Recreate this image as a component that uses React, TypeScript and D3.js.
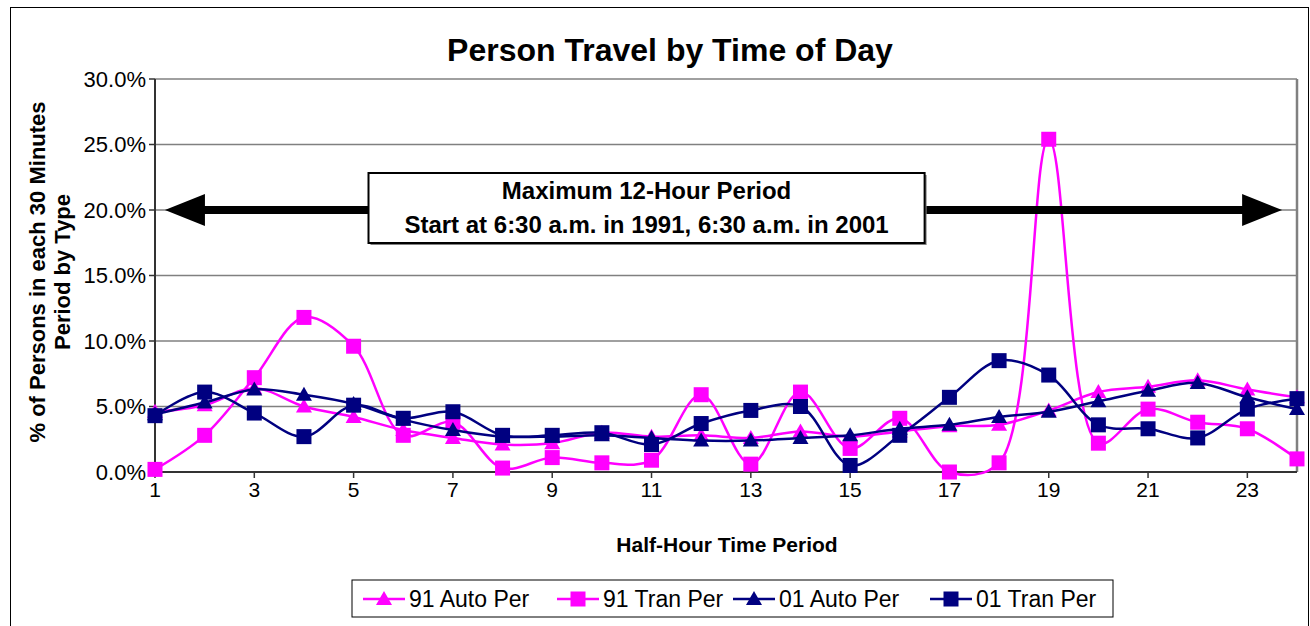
import * as d3 from "d3";

const periods = [1, 2, 3, 4, 5, 6, 7, 8, 9, 10, 11, 12, 13, 14, 15, 16, 17, 18, 19, 20, 21, 22, 23, 24];
const auto91 = [4.6, 5.1, 6.4, 5.0, 4.2, 3.2, 2.6, 2.1, 2.2, 3.0, 2.7, 2.8, 2.6, 3.1, 2.7, 3.1, 3.5, 3.6, 4.7, 6.1, 6.5, 7.0, 6.3, 5.7];
const tran91 = [0.2, 2.8, 7.2, 11.8, 9.6, 2.8, 3.8, 0.3, 1.1, 0.7, 0.9, 5.9, 0.6, 6.1, 1.8, 4.1, 0.0, 0.7, 25.4, 2.2, 4.8, 3.8, 3.3, 1.0];
const auto01 = [4.4, 5.3, 6.3, 5.9, 5.2, 4.0, 3.2, 2.7, 2.7, 2.8, 2.6, 2.4, 2.4, 2.6, 2.8, 3.3, 3.6, 4.2, 4.6, 5.4, 6.2, 6.8, 5.7, 4.8];
const tran01 = [4.3, 6.1, 4.5, 2.7, 5.1, 4.1, 4.6, 2.8, 2.8, 3.0, 2.1, 3.7, 4.7, 5.0, 0.5, 2.8, 5.7, 8.5, 7.4, 3.6, 3.3, 2.6, 4.8, 5.6];
const seriesNames = ["91 Auto Per", "91 Tran Per", "01 Auto Per", "01 Tran Per"];
const yTicks = [0, 5, 10, 15, 20, 25, 30];
const xTicks = [1, 3, 5, 7, 9, 11, 13, 15, 17, 19, 21, 23];

const FONT = "'Liberation Sans', Arial, sans-serif";
const MAGENTA = "#ff00ff";
const NAVY = "#000080";

const Marker = ({ shape, color, cx, cy }: { shape: string; color: string; cx: number; cy: number }) =>
  shape === "square" ? (
    <rect x={cx - 7.5} y={cy - 7.5} width={15} height={15} fill={color} />
  ) : (
    <path d={`M${cx},${cy - 8}L${cx + 8},${cy + 6}L${cx - 8},${cy + 6}Z`} fill={color} />
  );

export default function App() {
  const x = d3.scaleLinear().domain([1, 24]).range([155, 1297]);
  const y = d3.scaleLinear().domain([0, 30]).range([472, 79]);

  const series = [
    { name: seriesNames[0], values: auto91, color: MAGENTA, shape: "tri" },
    { name: seriesNames[1], values: tran91, color: MAGENTA, shape: "square" },
    { name: seriesNames[2], values: auto01, color: NAVY, shape: "tri" },
    { name: seriesNames[3], values: tran01, color: NAVY, shape: "square" },
  ];

  const line = d3
    .line<number>()
    .x((_, i) => x(periods[i]))
    .y((d) => y(d))
    .curve(d3.curveCatmullRom.alpha(0.5));

  // arrow + note box
  const ay = y(20);
  const boxL = x(5.3);
  const boxR = x(16.5);
  const legendX = [363, 557, 733, 930];

  return (
    <div style={{ position: "fixed", left: 0, top: 0 }}>
      <svg width={1310} height={626} style={{ display: "block", fontFamily: FONT }}>
        <rect width={1310} height={626} fill="#fff" />
        <rect x={10.5} y={7.5} width={1298} height={640} fill="none" stroke="#000" strokeWidth={1} />

        <text x={670} y={50} textAnchor="middle" dominantBaseline="central" fontSize={32} fontWeight="bold">
          Person Travel by Time of Day
        </text>

        {/* grid */}
        {yTicks.slice(1).map((t) => (
          <line key={t} x1={x(1)} x2={x(24)} y1={y(t)} y2={y(t)} stroke="#808080" strokeWidth={1.5} />
        ))}
        <line x1={x(24)} x2={x(24)} y1={y(30)} y2={y(0)} stroke="#808080" strokeWidth={2.5} />

        {/* y axis */}
        <line x1={x(1)} x2={x(1)} y1={y(30)} y2={y(0)} stroke="#333" strokeWidth={2} />
        {yTicks.map((t) => (
          <g key={t}>
            <line x1={x(1) - 6} x2={x(1)} y1={y(t)} y2={y(t)} stroke="#333" strokeWidth={1.5} />
            <text x={146} y={y(t)} textAnchor="end" dominantBaseline="central" fontSize={22}>
              {d3.format(".1f")(t)}%
            </text>
          </g>
        ))}

        {/* x axis */}
        <line x1={x(1)} x2={x(24)} y1={y(0)} y2={y(0)} stroke="#333" strokeWidth={2} />
        {xTicks.map((t) => (
          <g key={t}>
            <line x1={x(t)} x2={x(t)} y1={y(0)} y2={y(0) + 6} stroke="#333" strokeWidth={1.5} />
            <text x={x(t)} y={y(0) + 17} textAnchor="middle" dominantBaseline="central" fontSize={21}>
              {t}
            </text>
          </g>
        ))}

        <text x={727} y={544} textAnchor="middle" dominantBaseline="central" fontSize={21} fontWeight="bold">
          Half-Hour Time Period
        </text>
        <g transform="translate(45,272) rotate(-90)">
          <text textAnchor="middle" fontSize={22} fontWeight="bold">% of Persons in each 30 Minutes</text>
          <text y={25} textAnchor="middle" fontSize={22} fontWeight="bold">Period by Type</text>
        </g>

        {/* series */}
        {series.map((s) => (
          <g key={s.name}>
            <path d={line(s.values) || ""} fill="none" stroke={s.color} strokeWidth={2.5} />
            {s.values.map((v, i) => (
              <Marker key={i} shape={s.shape} color={s.color} cx={x(periods[i])} cy={y(v)} />
            ))}
          </g>
        ))}

        {/* arrows and note */}
        <line x1={x(1.2) + 38} x2={boxL} y1={ay} y2={ay} stroke="#000" strokeWidth={8} />
        <path d={`M${x(1.2)},${ay}L${x(1.2) + 40},${ay - 16}L${x(1.2) + 40},${ay + 16}Z`} fill="#000" />
        <line x1={boxR} x2={x(23.7) - 38} y1={ay} y2={ay} stroke="#000" strokeWidth={8} />
        <path d={`M${x(23.7)},${ay}L${x(23.7) - 40},${ay - 16}L${x(23.7) - 40},${ay + 16}Z`} fill="#000" />
        <rect x={boxL + 2} y={175} width={boxR - boxL} height={70} fill="#808080" />
        <rect x={boxL} y={173} width={boxR - boxL} height={70} fill="#fff" stroke="#000" strokeWidth={2} />
        <text x={(boxL + boxR) / 2} y={190} textAnchor="middle" dominantBaseline="central" fontSize={24} fontWeight="bold">
          Maximum 12-Hour Period
        </text>
        <text x={(boxL + boxR) / 2} y={224} textAnchor="middle" dominantBaseline="central" fontSize={24} fontWeight="bold">
          Start at 6:30 a.m. in 1991, 6:30 a.m. in 2001
        </text>

        {/* legend */}
        <rect x={352} y={580} width={761} height={37} fill="#fff" stroke="#000" strokeWidth={1} />
        {series.map((s, i) => (
          <g key={s.name}>
            <line x1={legendX[i]} x2={legendX[i] + 42} y1={599} y2={599} stroke={s.color} strokeWidth={2.5} />
            <Marker shape={s.shape} color={s.color} cx={legendX[i] + 21} cy={599} />
            <text x={legendX[i] + 46} y={599} dominantBaseline="central" fontSize={23}>
              {s.name}
            </text>
          </g>
        ))}
      </svg>
    </div>
  );
}
